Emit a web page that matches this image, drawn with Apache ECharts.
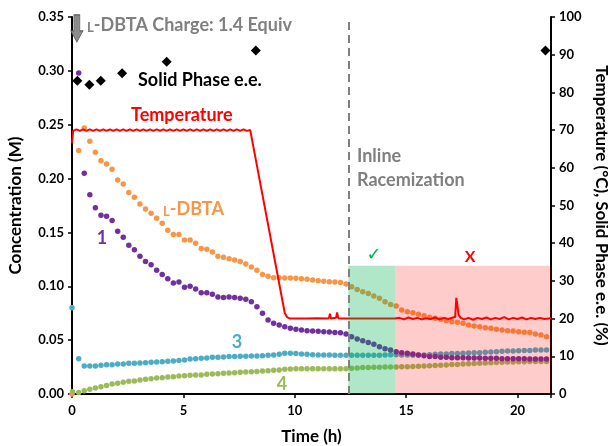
<!DOCTYPE html>
<html><head><meta charset="utf-8">
<script src="https://cdn.jsdelivr.net/npm/echarts@6/dist/echarts.min.js"></script>
<style>html,body{margin:0;padding:0;background:#fff}#c{width:608px;height:446px}</style>
</head><body><div id="c"></div>
<script>
// ---- data ----
const times = [0.30,0.55,0.80,1.05,1.30,1.55,1.80,2.05,2.30,2.55,2.80,3.05,3.30,3.55,3.80,4.05,4.30,4.55,4.80,5.05,5.30,5.55,5.80,6.05,6.30,6.55,6.80,7.05,7.30,7.55,7.80,8.05,8.30,8.55,8.80,9.05,9.30,9.55,9.80,10.05,10.30,10.55,10.80,11.05,11.30,11.55,11.80,12.05,12.30,12.55,12.80,13.05,13.30,13.55,13.80,14.05,14.30,14.55,14.80,15.05,15.30,15.55,15.80,16.05,16.30,16.55,16.80,17.05,17.30,17.55,17.80,18.05,18.30,18.55,18.80,19.05,19.30,19.55,19.80,20.05,20.30,20.55,20.80,21.05,21.30];
const conc1 = [0.298,0.205,0.185,0.173,0.166,0.165,0.161,0.151,0.1455,0.138,0.134,0.128,0.123,0.120,0.115,0.111,0.107,0.103,0.104,0.099,0.100,0.0975,0.094,0.094,0.0925,0.090,0.0897,0.0900,0.0895,0.0888,0.0879,0.0857,0.0811,0.075,0.0687,0.0656,0.0641,0.0625,0.061,0.060,0.0594,0.0588,0.0585,0.0582,0.0579,0.0576,0.0572,0.0569,0.0557,0.0532,0.051,0.0495,0.0477,0.0461,0.0439,0.042,0.0408,0.0393,0.0384,0.0378,0.0372,0.0362,0.0356,0.0347,0.0347,0.0341,0.0341,0.0337,0.0337,0.0337,0.0334,0.0334,0.0334,0.0331,0.0331,0.0331,0.0328,0.0328,0.0328,0.0328,0.0328,0.0325,0.0325,0.0325,0.0325];
const concDBTA = [0.226,0.247,0.2346,0.2244,0.2166,0.2136,0.2086,0.1987,0.195,0.187,0.1826,0.1764,0.1718,0.1678,0.1631,0.1585,0.152,0.148,0.148,0.143,0.143,0.140,0.135,0.1343,0.1318,0.128,0.1269,0.1256,0.1244,0.1229,0.1207,0.118,0.115,0.111,0.1093,0.108,0.108,0.1077,0.1077,0.1074,0.1071,0.1065,0.1058,0.1052,0.1046,0.1043,0.104,0.1034,0.1021,0.0996,0.0971,0.095,0.0934,0.091,0.0888,0.0857,0.0832,0.0817,0.078,0.0764,0.0755,0.074,0.0727,0.0712,0.0703,0.0694,0.068,0.0671,0.0665,0.0656,0.064,0.0632,0.0625,0.0616,0.061,0.060,0.0594,0.0588,0.0585,0.0579,0.0573,0.057,0.0557,0.0548,0.0532];
const conc3 = [0.0328,0.026,0.026,0.026,0.0266,0.0272,0.0272,0.0279,0.0279,0.0285,0.0285,0.0288,0.0291,0.0294,0.0297,0.0300,0.0303,0.0306,0.0310,0.0316,0.0325,0.0328,0.0331,0.0334,0.0341,0.0341,0.0344,0.0347,0.0347,0.035,0.035,0.0353,0.0353,0.0356,0.0359,0.0362,0.0368,0.0378,0.0378,0.0375,0.0372,0.0368,0.0365,0.0362,0.0362,0.0362,0.0359,0.0359,0.0359,0.0359,0.0359,0.0359,0.0359,0.0359,0.0359,0.0362,0.0365,0.0365,0.0362,0.0362,0.0360,0.0362,0.0362,0.0365,0.0368,0.0372,0.0372,0.0375,0.0375,0.0378,0.0381,0.0384,0.0384,0.0387,0.039,0.0393,0.0396,0.0399,0.0399,0.0402,0.0405,0.0405,0.0408,0.0408,0.0408];
const conc4 = [0.0015,0.0031,0.0043,0.0056,0.0068,0.008,0.0093,0.0099,0.0108,0.0118,0.0121,0.013,0.0136,0.0142,0.0149,0.0152,0.0158,0.0161,0.0167,0.017,0.0173,0.0176,0.0176,0.0183,0.0186,0.0189,0.0192,0.0195,0.0198,0.0201,0.0204,0.0207,0.021,0.0214,0.0217,0.022,0.0223,0.0229,0.0232,0.0235,0.0235,0.0235,0.0235,0.0235,0.0235,0.0235,0.0235,0.0235,0.0235,0.0238,0.0241,0.0245,0.0245,0.0248,0.0248,0.0251,0.0251,0.0251,0.0252,0.0254,0.0256,0.0258,0.026,0.0262,0.0265,0.0268,0.027,0.0273,0.0275,0.0278,0.028,0.0283,0.0285,0.0288,0.029,0.0292,0.0294,0.0296,0.0298,0.03,0.03,0.0301,0.0301,0.0302,0.0302];
// initial points [time, value]
const dbtaInitial = [0, 0.000];
const conc3Initial = [0, 0.080];
const conc4Initial = [0.02, 0.0022];

const tempTimes = [0,0.05,0.2,0.35,0.5,0.65,0.8,0.95,1.1,1.25,1.4,1.55,1.7,1.85,2.0,2.15,2.3,2.45,2.6,2.75,2.9,3.05,3.2,3.35,3.5,3.65,3.8,3.95,4.1,4.25,4.4,4.55,4.7,4.85,5.0,5.15,5.3,5.45,5.6,5.75,5.9,6.05,6.2,6.35,6.5,6.65,6.8,6.95,7.1,7.25,7.4,7.55,7.7,7.85,8.0,9.55,9.65,9.8,10.5,11.0,11.5,11.55,11.58,11.62,11.7,11.85,11.9,11.95,12.0,12.1,12.4,13.5,14.5,14.7,14.9,15.1,15.3,15.5,15.7,15.9,16.1,16.3,16.5,16.7,16.9,17.1,17.2,17.25,17.3,17.35,17.45,17.6,17.8,18.0,18.2,18.4,18.6,18.8,19.0,19.2,19.4,19.6,19.8,20.0,20.2,20.4,20.6,20.8,21.0,21.2,21.5];
const tempValues = [66.5,69.8,70.2,69.8,70.2,69.8,70.2,69.8,70.2,69.8,70.2,69.8,70.2,69.8,70.2,69.8,70.2,69.8,70.2,69.8,70.2,69.8,70.2,69.8,70.2,69.8,70.2,69.8,70.2,69.8,70.2,69.8,70.2,69.8,70.2,69.8,70.2,69.8,70.2,69.8,70.2,69.8,70.2,69.8,70.2,69.8,70.2,69.8,70.2,69.8,70.2,69.8,70.2,69.8,70.0,21.5,20.4,20.0,20.0,20.1,20.0,20.6,21.3,20.0,20.0,20.2,21.6,20.1,19.8,20.0,20.0,20.0,20.0,20.2,19.8,20.3,19.9,20.2,19.8,20.1,19.9,20.3,19.8,20.2,19.9,20.3,20.4,25.5,23.5,21.0,20.2,19.8,20.2,19.7,20.2,19.9,20.3,19.8,20.2,19.9,20.4,19.8,20.2,19.9,20.3,19.8,20.2,19.9,20.2,19.9,20.1];

const eeTimes = [0.24,0.78,1.29,2.25,4.25,8.25,21.25];
const eeValues = [83.1,82.0,83.1,85.1,88.1,91.1,91.1];

const xTicks = [0,5,10,15,20];
const racemStart = 12.4;
const zoneEdges = [12.4, 14.5, 21.5];
const zoneTop = 0.119;
const chargeArrow = [0.22, 0.3394];

// ---- chart ----
const zip = (t, v) => t.map((x, i) => [x, v[i]]);
const FONT = 'Lato';
const chart = echarts.init(document.getElementById('c'), null, {renderer: 'canvas'});
const dotBase = {type: 'scatter', symbolSize: 5.5, silent: true, xAxisIndex: 0, yAxisIndex: 0};

const option = {
  animation: false,
  grid: {left: 72, right: 57, top: 17, bottom: 52, containLabel: false, outerBoundsMode: 'none'},
  xAxis: {
    type: 'value', min: 0, max: 21.5, interval: 5,
    name: 'Time (h)', nameLocation: 'middle', nameGap: 34,
    nameTextStyle: {fontFamily: FONT, fontWeight: 'bold', fontSize: 17, color: '#000'},
    axisLine: {lineStyle: {color: '#000', width: 2}},
    axisTick: {show: true, length: 4, lineStyle: {color: '#000', width: 1.5}},
    axisLabel: {fontFamily: FONT, fontWeight: 'bold', fontSize: 13, color: '#000', margin: 10,
      formatter: v => xTicks.includes(v) ? String(v) : ''},
    splitLine: {show: false}
  },
  yAxis: [{
    type: 'value', min: 0, max: 0.35, interval: 0.05,
    name: 'Concentration (M)', nameLocation: 'middle', nameGap: 48, nameRotate: 90,
    nameTextStyle: {fontFamily: FONT, fontWeight: 'bold', fontSize: 17, color: '#000'},
    axisLine: {show: true, lineStyle: {color: '#000', width: 2}},
    axisTick: {show: true, length: 4, lineStyle: {color: '#000', width: 1.5}},
    axisLabel: {fontFamily: FONT, fontWeight: 'bold', fontSize: 13, color: '#000', margin: 8,
      formatter: v => v.toFixed(2)},
    splitLine: {show: false}
  }, {
    type: 'value', min: 0, max: 100, interval: 10, position: 'right',
    name: 'Temperature (°C), Solid Phase e.e. (%)', nameLocation: 'middle', nameGap: 42, nameRotate: -90,
    nameTextStyle: {fontFamily: FONT, fontWeight: 'bold', fontSize: 17, color: '#000'},
    axisLine: {show: true, lineStyle: {color: '#000', width: 2}},
    axisTick: {show: true, length: 4, lineStyle: {color: '#000', width: 1.5}},
    axisLabel: {fontFamily: FONT, fontWeight: 'bold', fontSize: 13, color: '#000', margin: 8},
    splitLine: {show: false}
  }],
  series: [
    Object.assign({}, dotBase, {name: 'L-DBTA', itemStyle: {color: '#F79646', opacity: 1}, z: 2,
      data: [dbtaInitial].concat(zip(times, concDBTA))}),
    Object.assign({}, dotBase, {name: '4', itemStyle: {color: '#9BBB59', opacity: 1}, z: 2,
      data: [conc4Initial].concat(zip(times, conc4))}),
    Object.assign({}, dotBase, {name: '3', itemStyle: {color: '#4BACC6', opacity: 1}, z: 2,
      data: [conc3Initial].concat(zip(times, conc3))}),
    Object.assign({}, dotBase, {name: '1', itemStyle: {color: '#7030A0', opacity: 1}, z: 3,
      data: zip(times, conc1),
      markPoint: {silent: true, symbol: 'path://M3,0 L9,0 L9,16 L12,16 L6,27 L0,16 L3,16 Z',
        symbolSize: [12, 27], itemStyle: {color: '#8C8C8C', borderColor: '#595959', borderWidth: 0.8, opacity: 1},
        label: {show: false}, data: [{coord: chargeArrow}]}}),
    {type: 'line', name: 'Temperature', yAxisIndex: 1, showSymbol: false, symbol: 'none', silent: true, z: 4,
      lineStyle: {color: '#FF0000', width: 2}, data: zip(tempTimes, tempValues)},
    {type: 'scatter', name: 'Solid Phase e.e.', yAxisIndex: 1, symbol: 'diamond', symbolSize: [10, 10], silent: true, z: 5,
      itemStyle: {color: '#000', opacity: 1}, data: zip(eeTimes, eeValues)},
    {type: 'line', name: 'zones', data: [[0, null]], silent: true, z: 10, symbol: 'none',
      markArea: {silent: true, z: 10, data: [
        [{xAxis: zoneEdges[0], yAxis: 0, itemStyle: {color: 'rgba(0,176,80,0.31)'}}, {xAxis: zoneEdges[1], yAxis: zoneTop}],
        [{xAxis: zoneEdges[1], yAxis: 0, itemStyle: {color: 'rgba(255,0,0,0.2)'}}, {xAxis: zoneEdges[2], yAxis: zoneTop}]
      ]},
      markLine: {silent: true, z: 11, symbol: 'none', label: {show: false},
        lineStyle: {color: '#808080', width: 2, type: [8, 5]},
        data: [{xAxis: racemStart}]}
    }
  ],
  graphic: [
    {type: 'text', x: 87, y: 25, z: 20, style: {text: '{s|L}{b|-DBTA Charge: 1.4 Equiv}', fill: '#808080', textVerticalAlign: 'middle',
      rich: {s: {fontFamily: FONT, fontWeight: 'bold', fontSize: 13, fill: '#808080', verticalAlign: 'bottom'},
             b: {fontFamily: FONT, fontWeight: 'bold', fontSize: 18, fill: '#808080', verticalAlign: 'bottom'}}}},
    {type: 'text', x: 138, y: 80, z: 20, style: {text: 'Solid Phase e.e.', fill: '#000', font: 'bold 18px ' + FONT, textVerticalAlign: 'middle'}},
    {type: 'text', x: 131, y: 115, z: 20, style: {text: 'Temperature', fill: '#FF0000', font: 'bold 18px ' + FONT, textVerticalAlign: 'middle'}},
    {type: 'text', x: 163, y: 209, z: 20, style: {text: '{s|L}{b|-DBTA}', fill: '#F79646', textVerticalAlign: 'middle',
      rich: {s: {fontFamily: FONT, fontWeight: 'bold', fontSize: 13, fill: '#F79646', verticalAlign: 'bottom'},
             b: {fontFamily: FONT, fontWeight: 'bold', fontSize: 18, fill: '#F79646', verticalAlign: 'bottom'}}}},
    {type: 'text', x: 102, y: 238, z: 20, style: {text: '1', fill: '#7030A0', font: 'bold 18px ' + FONT, textAlign: 'center', textVerticalAlign: 'middle'}},
    {type: 'text', x: 237, y: 342, z: 20, style: {text: '3', fill: '#4BACC6', font: 'bold 18px ' + FONT, textAlign: 'center', textVerticalAlign: 'middle'}},
    {type: 'text', x: 282, y: 384, z: 20, style: {text: '4', fill: '#9BBB59', font: 'bold 18px ' + FONT, textAlign: 'center', textVerticalAlign: 'middle'}},
    {type: 'text', x: 357, y: 156, z: 20, style: {text: 'Inline', fill: '#808080', font: 'bold 18px ' + FONT, textVerticalAlign: 'middle'}},
    {type: 'text', x: 357, y: 180, z: 20, style: {text: 'Racemization', fill: '#808080', font: 'bold 18px ' + FONT, textVerticalAlign: 'middle'}},
    {type: 'text', x: 374, y: 255, z: 20, style: {text: '\u2713', fill: '#00B050', font: '18px "DejaVu Sans"', textAlign: 'center', textVerticalAlign: 'middle'}},
    {type: 'text', x: 470, y: 257, z: 20, style: {text: 'X', fill: '#FF0000', font: 'bold 16px ' + FONT, textAlign: 'center', textVerticalAlign: 'middle'}}
  ]
};
chart.setOption(option);
</script></body></html>
